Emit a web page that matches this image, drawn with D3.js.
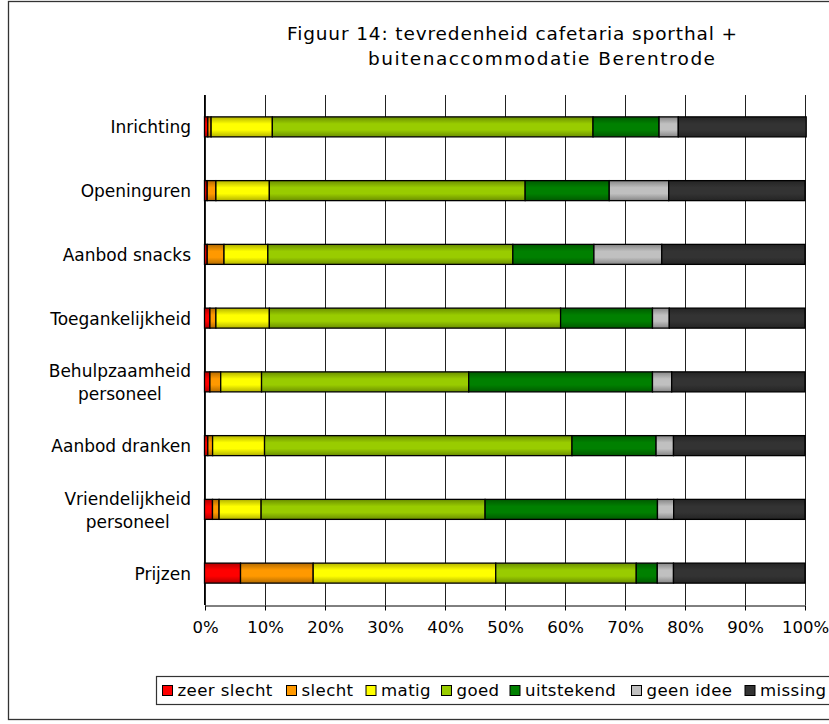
<!DOCTYPE html>
<html><head><meta charset="utf-8">
<script src="https://cdn.jsdelivr.net/npm/d3@7"></script>
<style>
html,body{margin:0;padding:0;background:#fff;}
svg{display:block;font-family:"DejaVu Sans",Verdana,sans-serif;}
</style></head>
<body><svg id="c" width="829" height="724"></svg>
<script>
const categories = ["Inrichting","Openinguren","Aanbod snacks","Toegankelijkheid","Behulpzaamheid\npersoneel","Aanbod dranken","Vriendelijkheid\npersoneel","Prijzen"];
const seriesNames = ["zeer slecht","slecht","matig","goed","uitstekend","geen idee","missing"];
const zeerSlecht = [0.55,0.45,0.45,0.9,0.9,0.55,1.33,6.0];
const slecht     = [0.55,1.45,2.8,1.0,1.8,0.8,1.1,12.1];
const matig      = [10.2,8.9,7.3,8.9,6.8,8.65,7.0,30.4];
const goed       = [53.4,42.6,40.8,48.5,34.5,51.2,37.3,23.4];
const uitstekend = [11.0,14.0,13.5,15.3,30.6,14.0,28.7,3.5];
const geenIdee   = [3.2,9.9,11.3,2.8,3.2,2.9,2.7,2.7];
const missing    = [21.3,22.7,23.85,22.6,22.2,21.9,21.87,21.9];
const seriesColors = ["#FF0000","#FF9900","#FFFF00","#99CC00","#008000","#C0C0C0","#333333"];
const tickValues = [0,10,20,30,40,50,60,70,80,90,100];
const tickLabels = ["0%","10%","20%","30%","40%","50%","60%","70%","80%","90%","100%"];
const titleLines = ["Figuur 14: tevredenheid cafetaria sporthal +","buitenaccommodatie Berentrode"];

const seriesValues = [zeerSlecht,slecht,matig,goed,uitstekend,geenIdee,missing];
const svg = d3.select("#c");

// outer frame
svg.append("rect").attr("x",8.5).attr("y",1.5).attr("width",840).attr("height",718)
  .attr("fill","#fff").attr("stroke","#333").attr("stroke-width",1.3);

// gradients
const defs = svg.append("defs");
seriesColors.forEach((c,i)=>{
  const dark = d3.color(c).darker(1.0).formatHex();
  const g = defs.append("linearGradient").attr("id","g"+i).attr("x1",0).attr("y1",0).attr("x2",0).attr("y2",1);
  g.append("stop").attr("offset","0%").attr("stop-color",dark);
  g.append("stop").attr("offset","35%").attr("stop-color",c);
  g.append("stop").attr("offset","65%").attr("stop-color",c);
  g.append("stop").attr("offset","100%").attr("stop-color",dark);
});

const x = d3.scaleLinear().domain([0,100]).range([204.5,805]);
const y = d3.scaleBand().domain(categories).range([95,605]).paddingInner(0.6863).paddingOuter(0.6863/2);

// gridlines
svg.append("g").selectAll("line").data(tickValues).join("line")
  .attr("x1",d=>Math.round(x(d))+0.5).attr("x2",d=>Math.round(x(d))+0.5)
  .attr("y1",95).attr("y2",605).attr("stroke","#222").attr("stroke-width",1);

// x axis
const xAxis = d3.axisBottom(x).tickValues(tickValues).tickFormat((d,i)=>tickLabels[i]).tickSize(5).tickPadding(11).tickSizeOuter(0);
const gx = svg.append("g").attr("transform","translate(0,605.5)").call(xAxis);
gx.select(".domain").attr("stroke","#000");
gx.selectAll(".tick line").attr("stroke","#000");
gx.selectAll(".tick").attr("transform",d=>`translate(${Math.round(x(d))+0.5},0)`);
gx.selectAll("text").attr("font-size",16.5).attr("fill","#000").attr("font-family","DejaVu Sans");

// y axis line
svg.append("line").attr("x1",204.5).attr("x2",204.5).attr("y1",95).attr("y2",605).attr("stroke","#000");

// bars
const stackData = categories.map((c,ci)=>{
  let acc=0; return seriesValues.map((s,si)=>{const v=s[ci]; const r={cat:c,si,x0:acc,x1:acc+v}; acc+=v; return r;});
});
const barG = svg.append("g");
stackData.forEach(row=>{
  barG.selectAll(null).data(row).join("rect")
    .attr("x",d=>x(d.x0)).attr("width",d=>x(d.x1)-x(d.x0))
    .attr("y",d=>y(d.cat)).attr("height",y.bandwidth())
    .attr("fill",d=>`url(#g${d.si})`).attr("stroke","#000").attr("stroke-width",1.3);
});

// category labels
categories.forEach(c=>{
  const lines = c.split("\n");
  const cy = y(c)+y.bandwidth()/2;
  const g = svg.append("g");
  const texts = lines.map((l,i)=>g.append("text").text(l).attr("font-size",17).attr("fill","#000")
      .attr("y", lines.length===1 ? cy+6.5 : cy-4.5+i*23));
  const w = d3.max(texts,t=>t.node().getComputedTextLength());
  texts.forEach(t=>t.attr("text-anchor","middle").attr("x",191-w/2));
});

// title
const tx = [287,368], tw=[450,347], ty=[40,65];
titleLines.forEach((t,i)=>{
  svg.append("text").text(t).attr("x",tx[i]).attr("y",ty[i]).attr("font-size",18.5)
    .attr("textLength",tw[i]).attr("lengthAdjust","spacing").attr("fill","#000");
});

// legend
svg.append("rect").attr("x",156.5).attr("y",676.5).attr("width",700).attr("height",28)
  .attr("fill","#fff").attr("stroke","#333").attr("stroke-width",1.2);
const legX = [162.5,286.5,366,441.5,510,631.5,745];
seriesNames.forEach((n,i)=>{
  svg.append("rect").attr("x",legX[i]).attr("y",685.5).attr("width",10).attr("height",10)
    .attr("fill",seriesColors[i]).attr("stroke","#000").attr("stroke-width",1);
  svg.append("text").text(n).attr("x",legX[i]+15).attr("y",696).attr("font-size",16.6)
    .attr("letter-spacing",0.4).attr("fill","#000");
});
</script></body></html>
